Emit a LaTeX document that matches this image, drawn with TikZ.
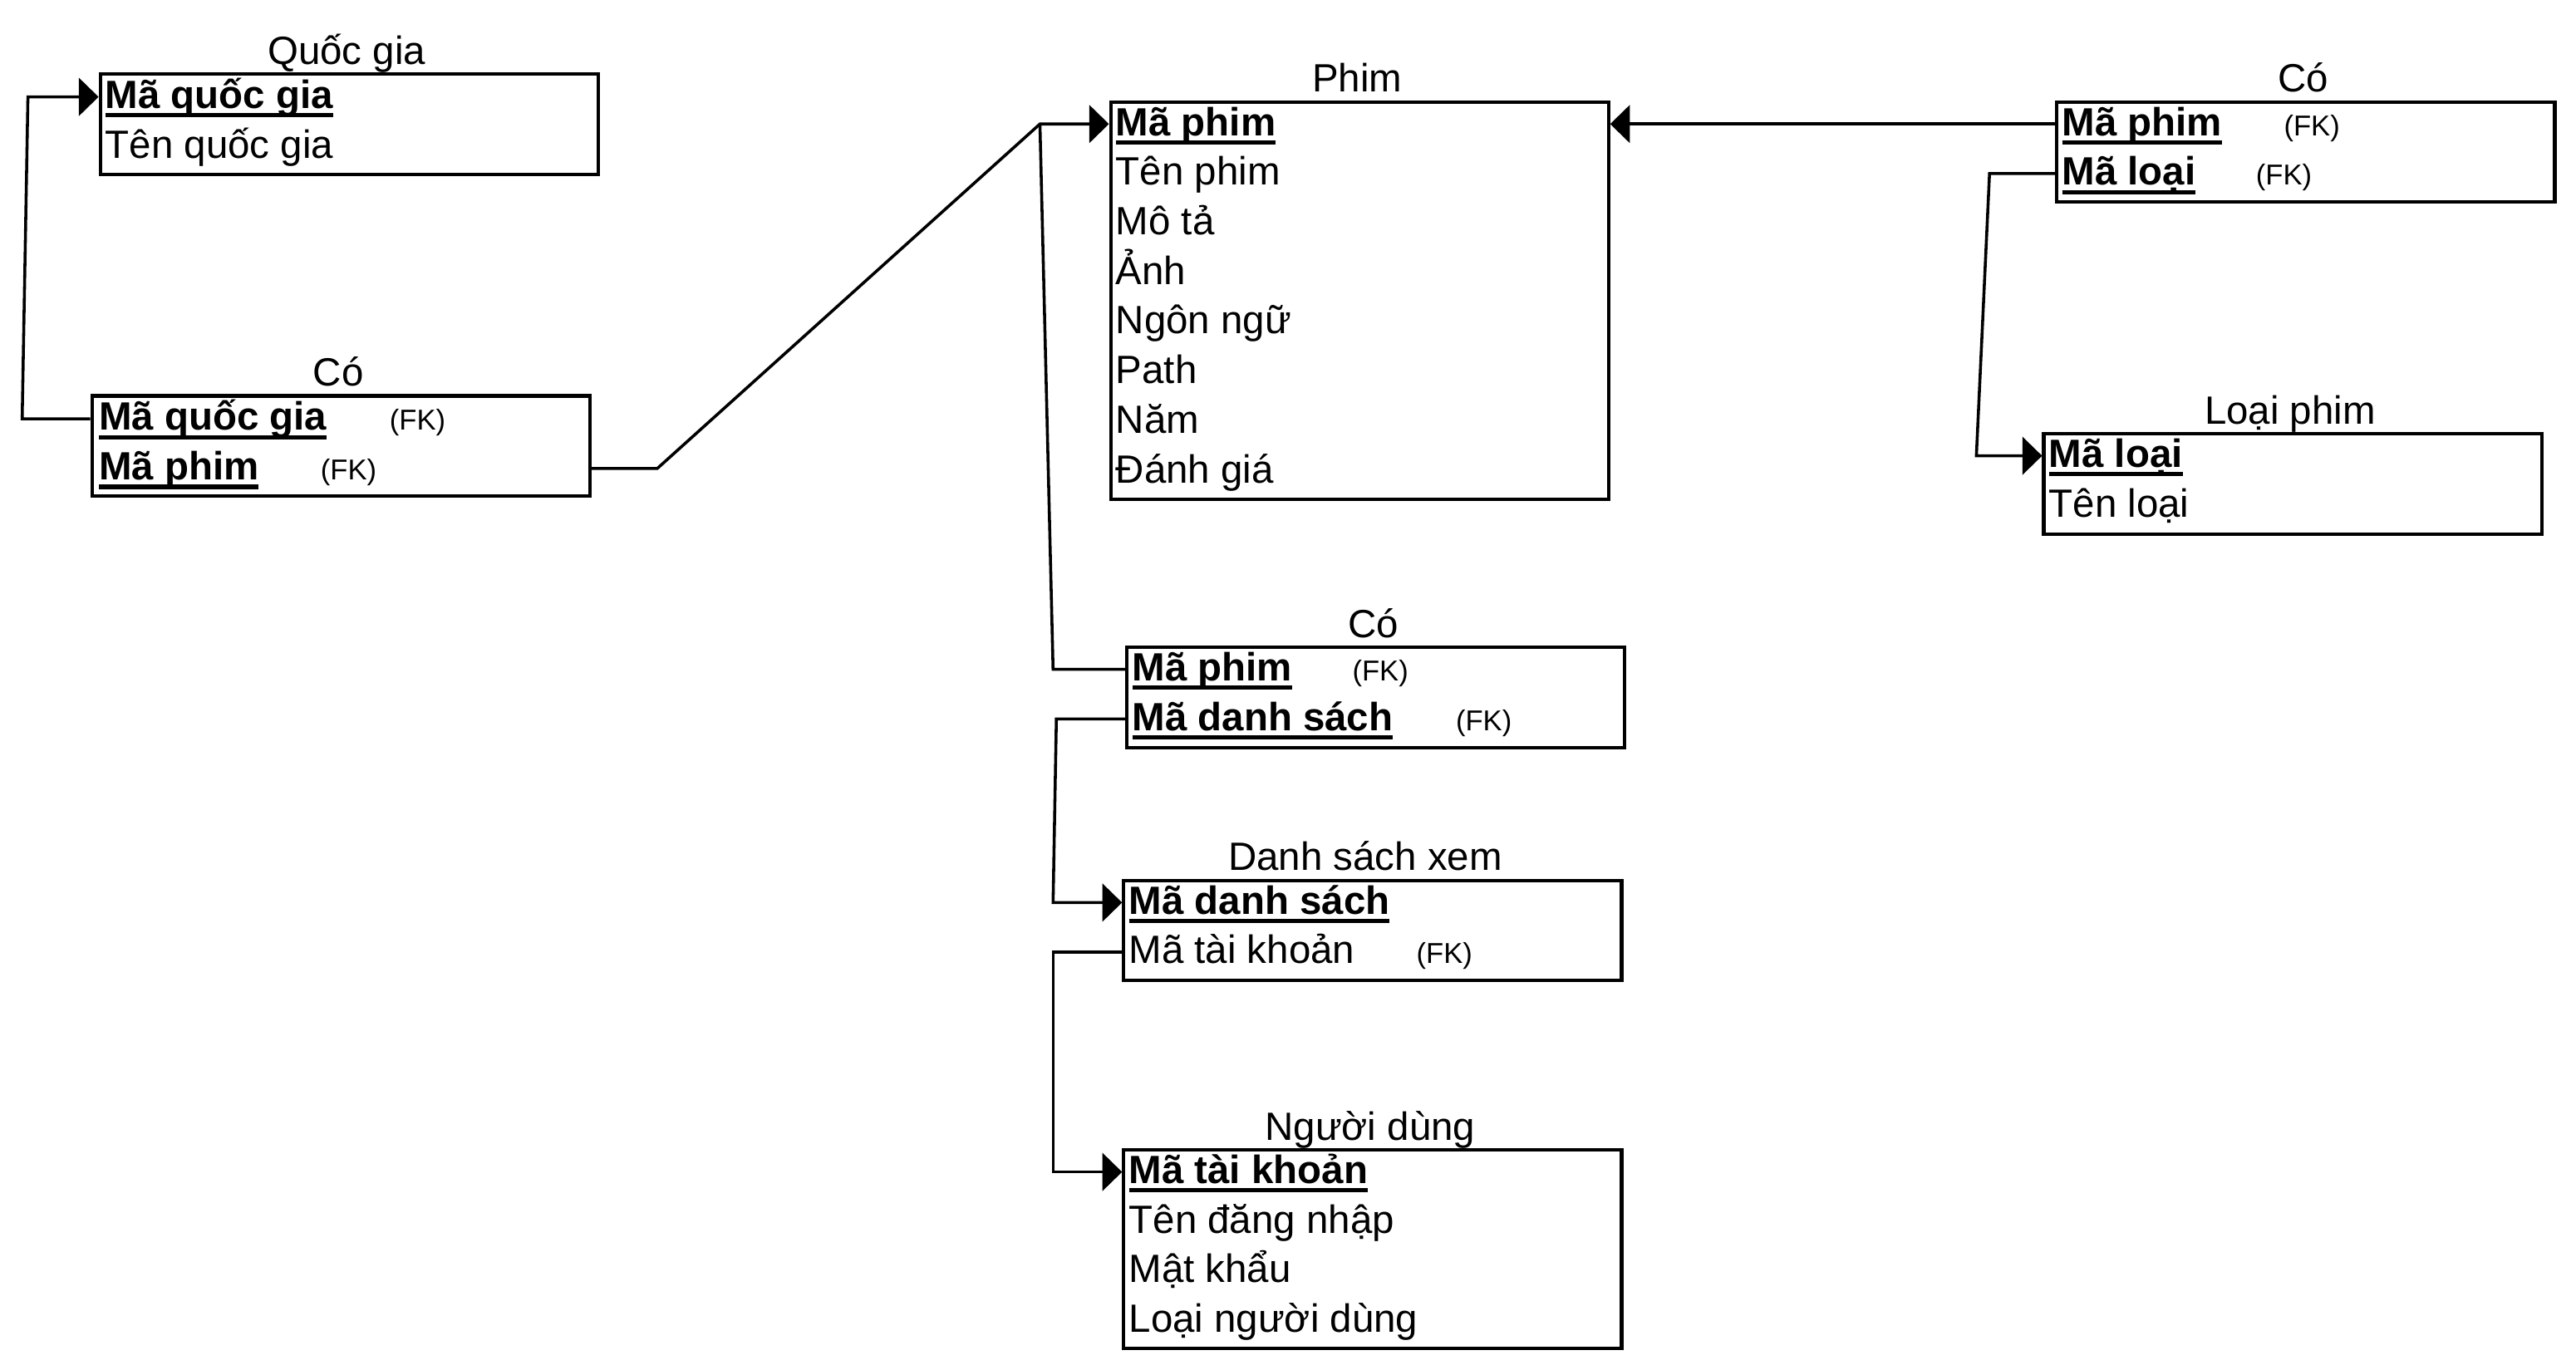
\documentclass[tikz,border=0pt]{standalone}
\usepackage{fontspec}
\setmainfont{Liberation Sans}
\usetikzlibrary{arrows.meta,calc}
\newcommand\fsz[1]{\fontsize{#1}{#1}\selectfont}
\newcommand\pk[1]{\setbox0=\hbox{\bfseries #1}\rlap{\rule[-5.5pt]{\wd0}{2.6pt}}\box0}
\tikzset{
 tbl/.style={draw, line width=2.1pt, minimum width=303pt, inner sep=0pt, anchor=north west},
 ttl/.style={anchor=base, inner sep=0pt, font=\fsz{24pt}},
 row/.style={anchor=west, inner sep=0pt, text height=16pt, text depth=2pt, font=\fsz{24pt}},
 fk/.style={row, font=\fsz{17.5pt}},
 conn/.style={line width=1.8pt},
 arr/.style={conn, -{Triangle[length=12pt,width=23pt]}}
}
\begin{document}
\begin{tikzpicture}[x=1pt,y=-1pt]
\useasboundingbox (0,0) rectangle (1568,834);
% Quoc gia
\node[tbl, minimum height=61pt] (qg) at (60,44) {};
\node[ttl] (qg-t) at (211,39) {Quốc gia};
\node[row] (qg-1) at (64,59) {\pk{Mã quốc gia}};
\node[row] (qg-2) at (64,89.2) {Tên quốc gia};
% Co 1
\node[tbl, minimum height=61pt] (co1) at (55,240) {};
\node[ttl] (co1-t) at (206,235) {Có};
\node[row] (co1-1) at (60,255) {\pk{Mã quốc gia}};
\node[row] (co1-2) at (60,285.2) {\pk{Mã phim}};
\node[fk] (co1-f1) at (237,255) {(FK)};
\node[fk] (co1-f2) at (195,285.2) {(FK)};
% Phim
\node[tbl, minimum height=242pt] (phim) at (675,61) {};
\node[ttl] (phim-t) at (826,56) {Phim};
\node[row] (phim-1) at (679,75.5) {\pk{Mã phim}};
\node[row] (phim-2) at (679,105.7) {Tên phim};
\node[row] (phim-3) at (679,135.9) {Mô tả};
\node[row] (phim-4) at (679,166.1) {Ảnh};
\node[row] (phim-5) at (679,196.3) {Ngôn ngữ};
\node[row] (phim-6) at (679,226.5) {Path};
\node[row] (phim-7) at (679,256.7) {Năm};
\node[row] (phim-8) at (679,286.9) {Đánh giá};
% Co 2
\node[tbl, minimum height=61pt] (co2) at (1251,61) {};
\node[ttl] (co2-t) at (1402,56) {Có};
\node[row] (co2-1) at (1255,75.5) {\pk{Mã phim}};
\node[row] (co2-2) at (1255,105.7) {\pk{Mã loại}};
\node[fk] (co2-f1) at (1390,75.5) {(FK)};
\node[fk] (co2-f2) at (1373,105.7) {(FK)};
% Loai phim
\node[tbl, minimum height=61pt] (lp) at (1243,263) {};
\node[ttl] (lp-t) at (1394,258) {Loại phim};
\node[row] (lp-1) at (1247,277.5) {\pk{Mã loại}};
\node[row] (lp-2) at (1247,307.7) {Tên loại};
% Co 3
\node[tbl, minimum height=61pt] (co3) at (685,393) {};
\node[ttl] (co3-t) at (836,388) {Có};
\node[row] (co3-1) at (689,407.5) {\pk{Mã phim}};
\node[row] (co3-2) at (689,437.7) {\pk{Mã danh sách}};
\node[fk] (co3-f1) at (823,407.5) {(FK)};
\node[fk] (co3-f2) at (886,437.7) {(FK)};
% Danh sach xem
\node[tbl, minimum height=61pt] (dsx) at (683,535) {};
\node[ttl] (dsx-t) at (831,530) {Danh sách xem};
\node[row] (dsx-1) at (687,549.5) {\pk{Mã danh sách}};
\node[row] (dsx-2) at (687,579.7) {Mã tài khoản};
\node[fk] (dsx-f2) at (862,579.7) {(FK)};
% Nguoi dung
\node[tbl, minimum height=121pt] (nd) at (683,699) {};
\node[ttl] (nd-t) at (834,694) {Người dùng};
\node[row] (nd-1) at (687,713.5) {\pk{Mã tài khoản}};
\node[row] (nd-2) at (687,743.7) {Tên đăng nhập};
\node[row] (nd-3) at (687,773.9) {Mật khẩu};
\node[row] (nd-4) at (687,804.1) {Loại người dùng};
% connectors
\coordinate (j) at ($(phim.west |- phim-1)+(-42,0)$);
\draw[arr] (co1.west |- co1-1) -- ++(-41.5,0) -- ($(qg.west |- qg-1)+(-43,0)$) -- (qg.west |- qg-1);
\draw[arr] (co1.east |- co1-2) -- ++(40,0) -- (j) -- (phim.west |- phim-1);
\draw[conn] (j) -- ($(co3.west |- co3-1)+(-44,0)$) -- (co3.west |- co3-1);
\draw[arr] (co2.west |- co2-1) -- (phim.east |- co2-1);
\draw[arr] (co2.west |- co2-2) -- ++(-40,0) -- ($(lp.west |- lp-1)+(-40,0)$) -- (lp.west |- lp-1);
\draw[arr] (co3.west |- co3-2) -- ++(-42,0) -- ($(dsx.west |- dsx-1)+(-42,0)$) -- (dsx.west |- dsx-1);
\draw[arr] (dsx.west |- dsx-2) -- ++(-42,0) -- ($(nd.west |- nd-1)+(-42,0)$) -- (nd.west |- nd-1);
\end{tikzpicture}
\end{document}
